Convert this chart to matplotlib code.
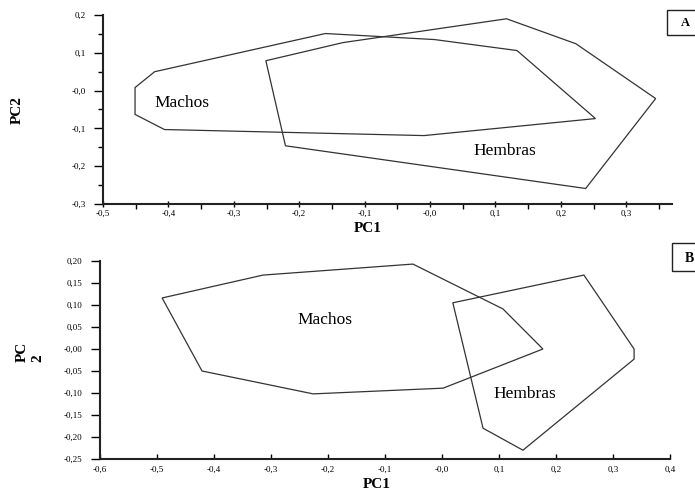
import matplotlib
matplotlib.use("Agg")
import matplotlib.pyplot as plt
from matplotlib.patches import Polygon, Rectangle

plt.rcParams['font.family'] = ['Liberation Serif', 'DejaVu Serif']

# ---- panel A data (PC1, PC2 hull vertices) ----
a_machos_x = [-0.451, -0.451, -0.406, -0.009, 0.253, 0.133, 0.007, -0.160, -0.421]
a_machos_y = [0.008, -0.063, -0.103, -0.119, -0.074, 0.106, 0.135, 0.151, 0.050]
a_hembras_x = [-0.251, -0.221, 0.238, 0.345, 0.223, 0.117, -0.133]
a_hembras_y = [0.079, -0.146, -0.259, -0.021, 0.124, 0.190, 0.127]

# ---- panel B data ----
b_machos_x = [-0.491, -0.421, -0.226, 0.002, 0.177, 0.107, -0.051, -0.314]
b_machos_y = [0.116, -0.050, -0.102, -0.089, 0.000, 0.091, 0.193, 0.168]
b_hembras_x = [0.019, 0.072, 0.142, 0.337, 0.337, 0.249]
b_hembras_y = [0.105, -0.180, -0.230, -0.023, 0.000, 0.168]

# ticks
a_xticks = [-0.5, -0.4, -0.3, -0.2, -0.1, 0.0, 0.1, 0.2, 0.3]
a_xlabels = ['-0,5', '-0,4', '-0,3', '-0,2', '-0,1', '-0,0', '0,1', '0,2', '0,3']
a_yticks = [-0.3, -0.2, -0.1, 0.0, 0.1, 0.2]
a_ylabels = ['-0,3', '-0,2', '-0,1', '-0,0', '0,1', '0,2']
b_xticks = [-0.6, -0.5, -0.4, -0.3, -0.2, -0.1, 0.0, 0.1, 0.2, 0.3, 0.4]
b_xlabels = ['-0,6', '-0,5', '-0,4', '-0,3', '-0,2', '-0,1', '-0,0', '0,1', '0,2', '0,3', '0,4']
b_yticks = [-0.25, -0.20, -0.15, -0.10, -0.05, 0.0, 0.05, 0.10, 0.15, 0.20]
b_ylabels = ['-0,25', '-0,20', '-0,15', '-0,10', '-0,05', '-0,00', '0,05', '0,10', '0,15', '0,20']

W, H = 695, 493
fig = plt.figure(figsize=(W / 100, H / 100), dpi=100)

def px_axes(l, r, t, b):
    return [l / W, 1 - b / H, (r - l) / W, (b - t) / H]

def style(ax):
    for s in ['top', 'right']:
        ax.spines[s].set_visible(False)
    for s in ['left', 'bottom']:
        ax.spines[s].set_linewidth(1.5)
        ax.spines[s].set_color('#222222')
    ax.tick_params(axis='y', direction='out', length=6.5, width=1.0, pad=6, labelsize=6.5)
    ax.tick_params(axis='x', direction='inout', length=5, width=1.0, pad=2, labelsize=6.5)

def hull(ax, xs, ys):
    ax.add_patch(Polygon(list(zip(xs, ys)), closed=True, fill=False,
                         edgecolor='#333333', linewidth=0.9))

# panel A
ax1 = fig.add_axes(px_axes(103, 672, 15, 204))
hull(ax1, a_machos_x, a_machos_y)
hull(ax1, a_hembras_x, a_hembras_y)
ax1.set_xlim(-0.5, 0.37)
ax1.set_ylim(-0.3, 0.2)
ax1.set_xticks(a_xticks, a_xlabels)
ax1.set_yticks(a_yticks, a_ylabels)
ax1.set_xticks([-0.45, -0.35, -0.25, -0.15, -0.05, 0.05, 0.15, 0.25, 0.35], minor=True)
ax1.set_yticks([-0.25, -0.15, -0.05, 0.05, 0.15], minor=True)
style(ax1)
ax1.tick_params(which='minor', length=3.5, width=1.0)
ax1.text(-0.380, -0.034, 'Machos', fontsize=12.5, ha='center', va='center')
ax1.text(0.115, -0.161, 'Hembras', fontsize=12.5, ha='center', va='center')

# panel B
ax2 = fig.add_axes(px_axes(100, 670, 261, 459))
hull(ax2, b_machos_x, b_machos_y)
hull(ax2, b_hembras_x, b_hembras_y)
ax2.set_xlim(-0.6, 0.4)
ax2.set_ylim(-0.25, 0.2)
ax2.set_xticks(b_xticks, b_xlabels)
ax2.set_yticks(b_yticks, b_ylabels)
style(ax2)
ax2.tick_params(axis='x', direction='in', length=3.5, pad=5)
ax2.text(-0.205, 0.066, 'Machos', fontsize=12.5, ha='center', va='center')
ax2.text(0.146, -0.102, 'Hembras', fontsize=12.5, ha='center', va='center')

# axis titles
fig.text(368 / W, 1 - 229 / H, 'PC1', fontsize=11, fontweight='bold', ha='center', va='center')
fig.text(17 / W, 1 - 110 / H, 'PC2', fontsize=11, fontweight='bold', rotation=90,
         ha='center', va='center')
fig.text(377 / W, 1 - 485 / H, 'PC1', fontsize=11, fontweight='bold', ha='center', va='center')
fig.text(30 / W, 1 - 352 / H, 'PC\n2', fontsize=11, fontweight='bold', rotation=90,
         ha='center', va='center', multialignment='left', linespacing=1.3)

# panel tags
fig.add_artist(Rectangle((667 / W, 1 - 35 / H), 40 / W, 25 / H, transform=fig.transFigure,
                         fill=False, edgecolor='#222222', linewidth=1.0))
fig.text(685 / W, 1 - 23 / H, 'A', fontsize=9, fontweight='bold', ha='center', va='center')
fig.add_artist(Rectangle((672 / W, 1 - 271 / H), 40 / W, 28 / H, transform=fig.transFigure,
                         fill=False, edgecolor='#222222', linewidth=1.0))
fig.text(689 / W, 1 - 258 / H, 'B', fontsize=10, fontweight='bold', ha='center', va='center')

fig.savefig('out.png', dpi=100)
